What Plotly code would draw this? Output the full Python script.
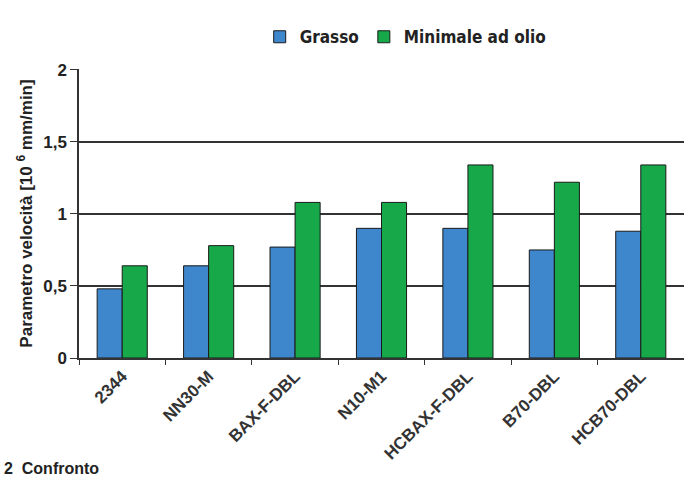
import plotly.graph_objects as go

categories = ["2344", "NN30-M", "BAX-F-DBL", "N10-M1", "HCBAX-F-DBL", "B70-DBL", "HCB70-DBL"]
grasso = [0.48, 0.64, 0.77, 0.90, 0.90, 0.75, 0.88]
minimale = [0.64, 0.78, 1.08, 1.08, 1.34, 1.22, 1.34]
ytick_vals = [0, 0.5, 1, 1.5, 2]
ytick_text = ["0", "0,5", "1", "1,5", "2"]

fnt = "Liberation Sans, Arial, sans-serif"
narrow = "DejaVu Sans Condensed, Liberation Sans, sans-serif"

fig = go.Figure()
fig.add_trace(go.Bar(x=categories, y=grasso, name="Grasso",
                     marker=dict(color="#3f87cc", line=dict(color="#1a1a1a", width=1))))
fig.add_trace(go.Bar(x=categories, y=minimale, name="Minimale ad olio",
                     marker=dict(color="#17a84a", line=dict(color="#1a1a1a", width=1))))

fig.update_layout(
    width=684, height=483,
    margin=dict(l=79, r=0, t=69, b=125),
    paper_bgcolor="white", plot_bgcolor="white",
    barmode="group", bargap=0.42, bargroupgap=0,
    showlegend=True,
    legend=dict(orientation="h", x=0.54, xanchor="center", y=1.11, yanchor="middle",
                font=dict(family=narrow, size=17, color="#222", weight="bold"),
                itemwidth=30, traceorder="normal", tracegroupgap=0),
    xaxis=dict(showline=True, linecolor="#333", linewidth=1.5,
               ticks="outside", tickson="boundaries", ticklen=5, tickcolor="#333",
               tickangle=-45, tickfont=dict(family=fnt, size=17, color="#333", weight="bold")),
    yaxis=dict(range=[0, 2.006], tickvals=ytick_vals, ticktext=ytick_text,
               showline=True, linecolor="#333", linewidth=1.5,
               showgrid=True, gridcolor="#333", gridwidth=1.5,
               ticks="outside", ticklen=7, tickcolor="#333",
               tickfont=dict(family=fnt, size=17, color="#222", weight="bold"),
               title=dict(text="Parametro velocità [10 <sup>6</sup> mm/min]",
                          font=dict(family=fnt, size=17, color="#222", weight="bold"),
                          standoff=6)),
)

fig.add_annotation(text="2  Confronto", xref="paper", yref="paper", x=-0.125, y=-0.35,
                   xanchor="left", yanchor="top", showarrow=False, borderpad=0,
                   font=dict(family=fnt, size=16, color="#222", weight="bold"))

fig.write_html("out.html")
